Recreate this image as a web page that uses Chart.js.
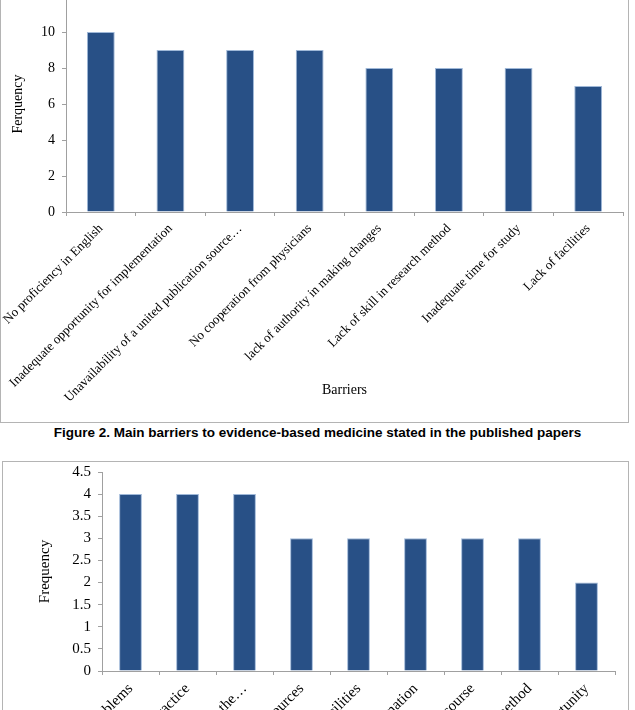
<!DOCTYPE html>
<html>
<head>
<meta charset="utf-8">
<script src="https://cdn.jsdelivr.net/npm/chart.js@4"></script>
<style>
  html, body { margin: 0; padding: 0; background: #fff; width: 635px; height: 710px; overflow: hidden; position: relative; }
  .frame { position: absolute; box-sizing: border-box; border: 1px solid #b4b4b4; }
  canvas { position: absolute; }
  #caption { position: absolute; left: 0; width: 635px; top: 425px; line-height: 16px; text-align: center;
             font: bold 13.5px "Liberation Sans", Arial, sans-serif; color: #000; }
</style>
</head>
<body>
<div class="frame" style="left:0; top:-10px; width:629px; height:433px;"></div>
<canvas id="barriersChart" width="628" height="462" style="left:0; top:-40px;"></canvas>
<div id="caption">Figure 2. Main barriers to evidence-based medicine stated in the published papers</div>
<div class="frame" style="left:2px; top:461px; width:627px; height:300px;"></div>
<canvas id="secondChart" width="628" height="249" style="left:0; top:461px;"></canvas>

<script>
// Figure 2 ma'lumotlari
const barrierLabels = [
  'No proficiency in English',
  'Inadequate opportunity for implementation',
  'Unavailability of a united publication source…',
  'No cooperation from physicians',
  'lack of authority in making changes',
  'Lack of skill in research method',
  'Inadequate time for study',
  'Lack of facilities'
];
const barrierValues = [10, 9, 9, 9, 8, 8, 8, 7];
const barrierMax = 12;
const barrierStep = 2;

// Pastki grafik (pastdan qirqilgan)
const secondLabels = [
  'Organizational problems',
  'Lack of evidence-based practice',
  'Lack of confidence in the…',
  'Lack of resources',
  'Lack of facilities',
  'Lack of access to information',
  'Lack of training course',
  'Lack of skill in research method',
  'Inadequate opportunity'
];
const secondValues = [4, 4, 4, 3, 3, 3, 3, 3, 2];
const secondMax = 4.5;
const secondStep = 0.5;

Chart.defaults.font.family = '"Liberation Serif", "Times New Roman", serif';
Chart.defaults.color = '#000';

const axisColor = '#a0a0a0';
const barColor = '#285086';

function makeBarChart(id, labels, values, cfg) {
  const ctx = document.getElementById(id).getContext('2d');
  return new Chart(ctx, {
    type: 'bar',
    data: {
      labels: labels,
      datasets: [{
        data: values,
        backgroundColor: barColor,
        borderColor: '#9fb8d8',
        borderWidth: 1,
        barPercentage: 0.4,
        categoryPercentage: 1
      }]
    },
    options: {
      responsive: false,
      animation: false,
      devicePixelRatio: 1,
      layout: { padding: cfg.padding },
      plugins: { legend: { display: false }, tooltip: { enabled: false } },
      scales: {
        x: {
          grid: { display: true, drawOnChartArea: false, drawTicks: true, tickLength: 4, color: axisColor },
          border: { color: axisColor },
          ticks: {
            autoSkip: false, minRotation: 45, maxRotation: 45, padding: 5,
            font: { size: cfg.labelSize }
          },
          title: {
            display: !!cfg.xTitle, text: cfg.xTitle || '',
            font: { size: 14 }, padding: { top: 0, bottom: cfg.xTitlePad || 0 }
          },
          afterFit: (s) => {
            s.height = cfg.xHeight;
            s.paddingLeft = 0;
            s.paddingRight = 0;
          }
        },
        y: {
          min: 0, max: cfg.max,
          grid: { display: true, drawOnChartArea: false, drawTicks: true, tickLength: 4, color: axisColor },
          border: { color: axisColor },
          ticks: { stepSize: cfg.step, padding: 7, font: { size: cfg.tickSize }, callback: (v) => String(v) },
          title: {
            display: true, text: cfg.yTitle,
            font: { size: cfg.tickSize }, padding: { top: cfg.yTitlePad, bottom: 0 }
          },
          afterFit: (s) => {
            s.width = cfg.yWidth;
            s.paddingTop = 0;
            s.paddingBottom = 0;
          }
        }
      }
    }
  });
}

makeBarChart('barriersChart', barrierLabels, barrierValues, {
  max: barrierMax, step: barrierStep,
  padding: { top: 36, right: 5, left: 0, bottom: 0 },
  yWidth: 66, xHeight: 210,
  labelSize: 13, tickSize: 14,
  xTitle: 'Barriers', xTitlePad: 23,
  yTitle: 'Ferquency', yTitlePad: 10
});

makeBarChart('secondChart', secondLabels, secondValues, {
  max: secondMax, step: secondStep,
  padding: { top: 11, right: 13, left: 0, bottom: 0 },
  yWidth: 102, xHeight: 39,
  labelSize: 15, tickSize: 15,
  yTitle: 'Frequency', yTitlePad: 36
});
</script>
</body>
</html>
